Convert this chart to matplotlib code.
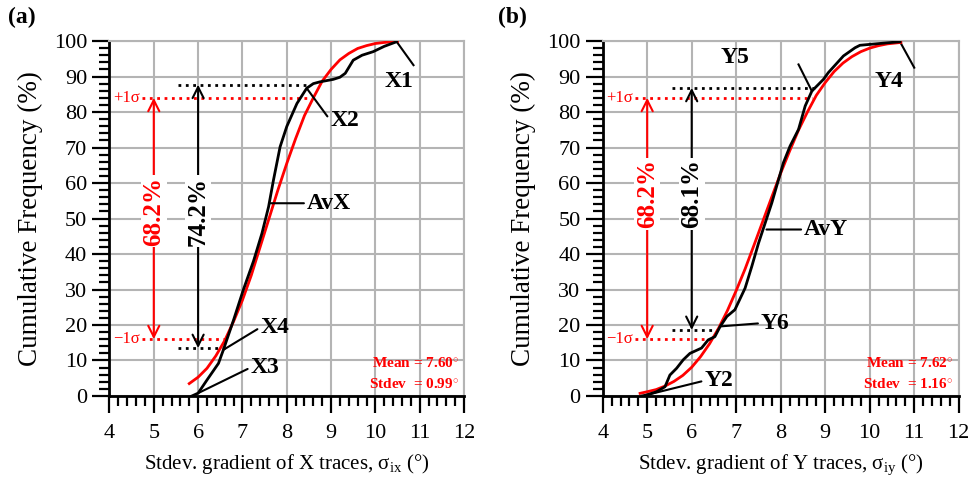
import numpy as np
import matplotlib
matplotlib.use('Agg')
import matplotlib.pyplot as plt
from matplotlib.ticker import MultipleLocator

plt.rcParams['font.family'] = ['Liberation Serif', 'DejaVu Serif']
plt.rcParams['mathtext.fontset'] = 'custom'
plt.rcParams['mathtext.rm'] = 'Liberation Serif'
plt.rcParams['mathtext.it'] = 'Liberation Serif:italic'

# panel (a) - X traces, empirical CDF (black) and normal fit (red)
ax_x = [5.86, 6.0, 6.2, 6.46, 6.57, 6.80, 7.02, 7.25, 7.44, 7.59, 7.70, 7.85, 8.0,
        8.23, 8.45, 8.6, 8.75, 9.05, 9.2, 9.32, 9.50, 9.7, 9.95, 10.2, 10.48]
ax_y = [0, 0.8, 4.5, 9.2, 13, 21.4, 29.9, 38, 45.8, 53.3, 60.8, 70.2, 75.9,
        82.4, 86.7, 88.0, 88.5, 89.2, 89.8, 90.9, 94.6, 96, 97, 98.5, 99.8]
fitx_x = [5.8, 6.0, 6.2, 6.4, 6.6, 6.8, 7.0, 7.2, 7.4, 7.6, 7.8, 8.0, 8.2, 8.4,
          8.6, 8.8, 9.0, 9.2, 9.4, 9.6, 9.8, 10.0, 10.2, 10.5]
fitx_y = [3.5, 5.3, 7.8, 11.3, 15.6, 21, 27, 34, 42, 50, 58, 65.5, 72.5, 79,
          84, 88.7, 92, 94.7, 96.5, 97.9, 98.7, 99.3, 99.6, 99.9]

# panel (b) - Y traces
ay_x = [4.88, 4.99, 5.21, 5.40, 5.51, 5.66, 5.81, 5.96, 6.22, 6.37, 6.52, 6.64,
        6.79, 6.97, 7.20, 7.35, 7.50, 7.65, 7.80, 8.06, 8.21, 8.40, 8.55, 8.70,
        8.96, 9.07, 9.41, 9.67, 9.78, 10.31, 10.68]
ay_y = [0, 0.3, 1.2, 2.6, 5.9, 7.8, 10.2, 12.0, 13.5, 15.8, 16.7, 19.6,
        22.4, 24.3, 30.4, 36.5, 43, 48.7, 54.4, 65.7, 70.4, 75.1, 81.7, 85.9,
        89.2, 91.1, 95.8, 98.1, 98.8, 99.4, 99.8]
fity_x = [4.84, 5.0, 5.2, 5.4, 5.6, 5.8, 6.0, 6.2, 6.4, 6.6, 6.8, 7.0, 7.2, 7.4,
          7.6, 7.8, 8.0, 8.2, 8.4, 8.6, 8.8, 9.0, 9.2, 9.4, 9.6, 9.8, 10.0, 10.2,
          10.4, 10.7]
fity_y = [0.75, 1.2, 1.8, 2.8, 4.1, 5.8, 8.1, 11.1, 14.7, 19, 24, 29.7, 35.8,
          42.5, 49.3, 56.1, 62.8, 69, 74.9, 80, 84.7, 88.3, 91.4, 93.8, 95.6,
          97, 98, 98.7, 99.2, 99.6]

# sigma levels and measured band
sig_lo, sig_hi = 16.0, 84.0
band_a = (13.5, 87.7)
band_b = (18.6, 86.8)

fig = plt.figure(figsize=(9.8, 4.86), dpi=100)
axA = fig.add_axes([0.1117, 0.1852, 0.3618, 0.7304])
axB = fig.add_axes([0.615, 0.1852, 0.3633, 0.7304])

RED = '#ff0000'


def setup(ax, xlabel):
    ax.set_xlim(4, 12)
    ax.set_ylim(0, 100)
    ax.xaxis.set_major_locator(MultipleLocator(1))
    ax.xaxis.set_minor_locator(MultipleLocator(0.2))
    ax.yaxis.set_major_locator(MultipleLocator(10))
    ax.yaxis.set_minor_locator(MultipleLocator(2))
    ax.grid(True, which='major', color='#b4b4b4', lw=1.5, zorder=0)
    ax.tick_params(which='major', direction='out', length=12, width=1.6,
                   labelsize=16, pad=4)
    ax.tick_params(axis='x', which='major', pad=8)
    ax.tick_params(which='minor', direction='out', length=7, width=1.6)
    for s in ['left', 'bottom']:
        ax.spines[s].set_linewidth(2)
    for s in ['right', 'top']:
        ax.spines[s].set_color('#b4b4b4')
        ax.spines[s].set_linewidth(1.5)
    ax.set_xlabel(xlabel, fontsize=15, labelpad=7)
    ax.set_ylabel('Cumulative Frequency (%)', fontsize=19.5, labelpad=8)


def decorate(ax, band, pct, pct_y, xdot_end_top, xdot_end_bot, rdot_end_top,
             rdot_end_bot, mean_txt, sd_txt):
    # sigma dotted lines
    ax.plot([4.73, rdot_end_top], [sig_hi, sig_hi], color=RED, ls=':', lw=2)
    ax.plot([4.73, rdot_end_bot], [sig_lo, sig_lo], color=RED, ls=':', lw=2)
    ax.text(4.68, sig_hi, '+1σ', color=RED, fontsize=12, ha='right', va='center')
    ax.text(4.68, sig_lo, '\u22121σ', color=RED, fontsize=12, ha='right', va='center')
    # measured band dotted lines
    ax.plot([5.55, xdot_end_top], [band[1], band[1]], color='k', ls=':', lw=2)
    ax.plot([5.55, xdot_end_bot], [band[0], band[0]], color='k', ls=':', lw=2)
    # arrows
    ax.annotate('', xy=(5, sig_hi), xytext=(5, sig_lo),
                arrowprops=dict(arrowstyle='<->', color=RED, lw=1.5,
                                mutation_scale=20, shrinkA=0, shrinkB=0))
    ax.annotate('', xy=(6, band[1]), xytext=(6, band[0]),
                arrowprops=dict(arrowstyle='<->', color='k', lw=1.5,
                                mutation_scale=20, shrinkA=0, shrinkB=0))
    ax.text(5, pct_y, '68.2%', color=RED, fontsize=18, fontweight='bold',
            rotation=90, ha='center', va='center',
            bbox=dict(fc='white', ec='none', pad=1))
    ax.text(6, pct_y, pct, color='k', fontsize=18, fontweight='bold',
            rotation=90, ha='center', va='center',
            bbox=dict(fc='white', ec='none', pad=1))
    ax.text(11.88, 9.2, mean_txt, color=RED, fontsize=11, fontweight='bold',
            ha='right', va='center')
    ax.text(11.88, 3.4, sd_txt, color=RED, fontsize=11, fontweight='bold',
            ha='right', va='center')


def leader(ax, txt, xy, xytext, ha='left'):
    ax.annotate(txt, xy=xy, xytext=xytext, fontsize=17, fontweight='bold',
                ha=ha, va='center',
                arrowprops=dict(arrowstyle='-', color='k', lw=1.5,
                                shrinkA=0, shrinkB=0, relpos=(0, 0.5)))


# panel (a)
setup(axA, 'Stdev. gradient of X traces, σ$_{\\mathrm{ix}}$ (°)')
axA.plot(fitx_x, fitx_y, color=RED, lw=2, zorder=3)
axA.plot(ax_x, ax_y, color='k', lw=2, zorder=4)
decorate(axA, band_a, '74.2%', 52, 8.45, 6.61, 8.53, 6.61,
         'Mean = 7.60$^{\\circ}$', 'Stdev  = 0.99$^{\\circ}$')
axA.plot([10.48, 10.86], [99.8, 93.2], color='k', lw=1.5)
axA.text(10.2, 88.5, 'X1', fontsize=17, fontweight='bold', va='center')
leader(axA, 'X2', (8.45, 86.7), (8.98, 77.7))
leader(axA, 'AvX', (7.62, 54.3), (8.45, 54.3))
leader(axA, 'X4', (6.57, 13), (7.4, 19.3))
leader(axA, 'X3', (6.0, 0.8), (7.18, 8.0))

# panel (b)
setup(axB, 'Stdev. gradient of Y traces, σ$_{\\mathrm{iy}}$ (°)')
axB.plot(fity_x, fity_y, color=RED, lw=2, zorder=3)
axB.plot(ay_x, ay_y, color='k', lw=2, zorder=4)
decorate(axB, band_b, '68.1%', 57, 8.81, 6.6, 8.70, 6.52,
         'Mean = 7.62$^{\\circ}$', 'Stdev  = 1.16$^{\\circ}$')
axB.plot([10.68, 11.0], [99.8, 92.5], color='k', lw=1.5)
axB.text(10.1, 88.7, 'Y4', fontsize=17, fontweight='bold', va='center')
axB.plot([8.70, 8.40], [85.9, 93.4], color='k', lw=1.5)
axB.text(6.65, 95.3, 'Y5', fontsize=17, fontweight='bold', va='center')
leader(axB, 'AvY', (7.68, 46.9), (8.52, 46.9))
leader(axB, 'Y6', (6.64, 19.6), (7.55, 20.5))
leader(axB, 'Y2', (4.99, 0.3), (6.28, 4.3))

fig.text(0.008, 0.965, '(a)', fontsize=17, fontweight='bold', va='center')
fig.text(0.508, 0.965, '(b)', fontsize=17, fontweight='bold', va='center')

fig.savefig('out.png', dpi=100)
